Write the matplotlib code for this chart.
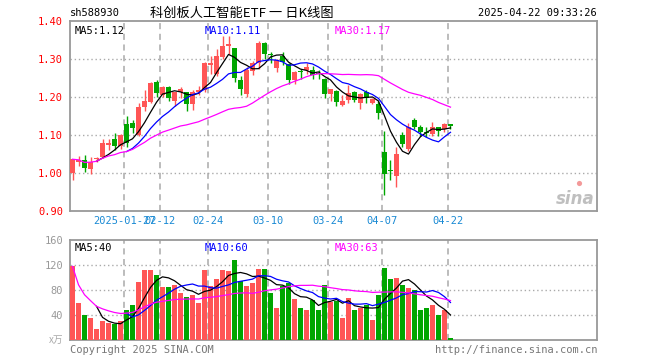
import numpy as np
import pandas as pd
import matplotlib
matplotlib.use("Agg")
import matplotlib.pyplot as plt

# daily K data for sh588930, 2025-01-14 .. 2025-04-22
opens = [1.000, 1.031, 1.035, 1.011, 1.037, 1.042, 1.074, 1.091, 1.071, 1.131,
         1.133, 1.102, 1.175, 1.188, 1.240, 1.206, 1.228, 1.189, 1.215, 1.215,
         1.182, 1.215, 1.219, 1.286, 1.262, 1.305, 1.336, 1.329, 1.246, 1.209,
         1.270, 1.289, 1.344, 1.314, 1.277, 1.309, 1.287, 1.246, 1.270, 1.272,
         1.272, 1.265, 1.249, 1.208, 1.217, 1.179, 1.192, 1.214, 1.184, 1.214,
         1.186, 1.182, 1.056, 1.008, 0.992, 1.101, 1.064, 1.141, 1.123, 1.110,
         1.104, 1.123, 1.117, 1.130]
highs = [1.038, 1.045, 1.048, 1.042, 1.043, 1.089, 1.090, 1.106, 1.103, 1.152,
         1.141, 1.186, 1.218, 1.239, 1.246, 1.230, 1.231, 1.215, 1.226, 1.215,
         1.218, 1.231, 1.292, 1.308, 1.326, 1.361, 1.361, 1.331, 1.257, 1.279,
         1.296, 1.347, 1.346, 1.318, 1.301, 1.320, 1.289, 1.268, 1.274, 1.290,
         1.283, 1.271, 1.251, 1.223, 1.219, 1.206, 1.232, 1.217, 1.211, 1.218,
         1.199, 1.191, 1.112, 1.035, 1.070, 1.108, 1.133, 1.145, 1.128, 1.123,
         1.136, 1.123, 1.132, 1.130]
lows = [0.983, 1.019, 1.004, 0.998, 1.030, 1.040, 1.061, 1.062, 1.064, 1.070,
        1.106, 1.098, 1.165, 1.184, 1.200, 1.200, 1.191, 1.178, 1.198, 1.163,
        1.167, 1.207, 1.215, 1.261, 1.257, 1.301, 1.314, 1.239, 1.207, 1.202,
        1.260, 1.275, 1.301, 1.289, 1.267, 1.284, 1.234, 1.234, 1.248, 1.261,
        1.248, 1.248, 1.197, 1.191, 1.176, 1.177, 1.186, 1.188, 1.170, 1.184,
        1.182, 1.144, 0.943, 0.983, 0.963, 1.070, 1.060, 1.117, 1.099, 1.095,
        1.099, 1.099, 1.110, 1.117]
closes = [1.037, 1.034, 1.015, 1.031, 1.041, 1.080, 1.081, 1.073, 1.100, 1.080,
          1.120, 1.175, 1.191, 1.237, 1.212, 1.227, 1.197, 1.213, 1.222, 1.182,
          1.215, 1.220, 1.289, 1.289, 1.310, 1.336, 1.340, 1.251, 1.222, 1.273,
          1.289, 1.342, 1.315, 1.311, 1.298, 1.293, 1.246, 1.267, 1.267, 1.281,
          1.258, 1.261, 1.208, 1.221, 1.188, 1.191, 1.211, 1.193, 1.208, 1.197,
          1.195, 1.158, 0.998, 1.006, 1.051, 1.077, 1.121, 1.123, 1.110, 1.107,
          1.123, 1.112, 1.130, 1.125]
volumes = [118, 59, 41, 35, 18, 30, 28, 26, 30, 48, 57, 93, 112, 112, 104, 85,
           85, 89, 76, 69, 73, 60, 112, 86, 97, 112, 110, 128, 94, 86, 91, 113,
           113, 75, 52, 87, 92, 66, 51, 48, 65, 48, 89, 61, 63, 35, 68, 49, 51,
           56, 33, 72, 116, 97, 99, 88, 84, 81, 49, 51, 57, 41, 49, 4]

holidays = ["2025-01-28", "2025-01-29", "2025-01-30", "2025-01-31",
            "2025-02-03", "2025-02-04", "2025-04-04"]
dates = pd.bdate_range("2025-01-14", "2025-04-22")
dates = dates[~dates.isin(pd.to_datetime(holidays))]

tick_dates = ["2025-01-27", "2025-02-12", "2025-02-24", "2025-03-10",
              "2025-03-24", "2025-04-07", "2025-04-22"]
tick_labels = ["2025-01-27", "02-12", "02-24", "03-10", "03-24", "04-07", "04-22"]

price_ticks = [0.90, 1.00, 1.10, 1.20, 1.30, 1.40]
vol_ticks = [40, 80, 120, 160]

RED = "#ff5555"
GREEN = "#00a600"
FRAME = "#999999"
GRID = "#aaaaaa"
MONO = "DejaVu Sans Mono"
CJK = ["Noto Sans CJK SC", "DejaVu Sans"]

o = np.array(opens)
h = np.array(highs)
l = np.array(lows)
c = np.array(closes)
v = np.array(volumes)
x = np.arange(len(c))
up = c >= o
colors = np.where(up, RED, GREEN)

close_s = pd.Series(c)
ma5 = close_s.rolling(5).mean()
ma10 = close_s.rolling(10).mean()
ma30 = close_s.rolling(30, min_periods=1).mean()
vol_s = pd.Series(v, dtype=float)
vma5 = vol_s.rolling(5).mean()
vma10 = vol_s.rolling(10).mean()
vma30 = vol_s.rolling(30, min_periods=1).mean()

tick_pos = [dates.get_loc(pd.Timestamp(d)) - 0.35 for d in tick_dates]

fig = plt.figure(figsize=(6.6, 3.6), dpi=100)
ax = fig.add_axes([70 / 660, 1 - 211.3 / 360, 527 / 660, 190 / 360])
axv = fig.add_axes([70 / 660, 1 - 340.3 / 360, 527 / 660, 100.3 / 360])

for a in (ax, axv):
    a.set_xlim(-0.42, 87.42)
    for s in a.spines.values():
        s.set_color(FRAME)
        s.set_linewidth(1.3)
    a.tick_params(length=0)
    for p in tick_pos:
        a.axvline(p, color=GRID, lw=1.1, ls=(0, (4, 3)), zorder=0)
    a.set_xticks([])

# price panel
ax.set_ylim(0.90, 1.40)
for y in price_ticks[1:-1]:
    ax.axhline(y, color=GRID, lw=1.0, ls=(0, (1, 2)), zorder=0)
ax.vlines(x, l, h, colors=colors, lw=1.0, zorder=2)
body = np.maximum(np.abs(c - o), 0.0025)
ax.bar(x, body, bottom=np.minimum(o, c), width=0.83, color=colors,
       linewidth=0, zorder=3)
ax.plot(x, ma5, color="black", lw=0.9, zorder=4)
ax.plot(x, ma10, color="#0000ff", lw=0.9, zorder=4)
ax.plot(x, ma30, color="#ff00ff", lw=0.9, zorder=4)
ax.set_yticks(price_ticks)
ax.set_yticklabels([f"{t:.2f}" for t in price_ticks], color="#ff0000",
                   family=MONO, fontsize=7.5)
ax.tick_params(axis="y", pad=5)

for t, p in zip(tick_labels, tick_pos):
    ax.text(p, -0.05, t, transform=ax.get_xaxis_transform(), ha="center",
            va="center", color="#1a8ad4", family=MONO, fontsize=7.5)

ax.text(5 / 527, 0.975, f"MA5:{ma5.iloc[-1]:.2f}", transform=ax.transAxes,
        family=MONO, fontsize=7.5, color="black", va="top")
ax.text(135 / 527, 0.975, f"MA10:{ma10.iloc[-1]:.2f}", transform=ax.transAxes,
        family=MONO, fontsize=7.5, color="#0000ff", va="top")
ax.text(265 / 527, 0.975, f"MA30:{ma30.iloc[-1]:.2f}", transform=ax.transAxes,
        family=MONO, fontsize=7.5, color="#ff00ff", va="top")

# sina watermark
ax.text(0.995, 0.02, "sina", transform=ax.transAxes, ha="right", va="bottom",
        fontsize=12, style="italic", weight="bold", color="#b0b0b0", alpha=0.8)
ax.scatter([0.966], [0.15], transform=ax.transAxes, s=14, color="#f08080",
           alpha=0.8, linewidths=0, zorder=5)

# volume panel
axv.set_ylim(0, 160)
for y in vol_ticks[:-1]:
    axv.axhline(y, color=GRID, lw=1.0, ls=(0, (1, 2)), zorder=0)
axv.bar(x, v, width=0.83, color=colors, linewidth=0, zorder=3)
axv.plot(x, vma5, color="black", lw=0.9, zorder=4)
axv.plot(x, vma10, color="#0000ff", lw=0.9, zorder=4)
axv.plot(x, vma30, color="#ff00ff", lw=0.9, zorder=4)
axv.set_yticks(vol_ticks)
axv.set_yticklabels([str(t) for t in vol_ticks], color="#999999",
                    family=MONO, fontsize=7.5)
axv.tick_params(axis="y", pad=5)

axv.text(5 / 527, 0.97, f"MA5:{vma5.iloc[-1]:.0f}", transform=axv.transAxes,
         family=MONO, fontsize=7.5, color="black", va="top")
axv.text(135 / 527, 0.97, f"MA10:{vma10.iloc[-1]:.0f}", transform=axv.transAxes,
         family=MONO, fontsize=7.5, color="#0000ff", va="top")
axv.text(265 / 527, 0.97, f"MA30:{vma30.iloc[-1]:.0f}", transform=axv.transAxes,
         family=MONO, fontsize=7.5, color="#ff00ff", va="top")

fig.text(63 / 660, 1 - 340 / 360, "x万", ha="right", va="center",
         family=CJK, fontsize=7, style="italic", color="#aaaaaa")
fig.text(70 / 660, 1 - 350 / 360, "Copyright 2025 SINA.COM", ha="left",
         va="center", family=MONO, fontsize=7.5, color="#777777")
fig.text(597 / 660, 1 - 350 / 360, "http://finance.sina.com.cn", ha="right",
         va="center", family=MONO, fontsize=7.5, color="#777777")

# header
fig.text(70 / 660, 1 - 13 / 360, "sh588930", ha="left", va="center",
         family=MONO, fontsize=7.5, color="black")
fig.text(150 / 660, 1 - 13 / 360, "科创板人工智能ETF 一 日K线图", ha="left",
         va="center", family=CJK, fontsize=9.5, color="black")
fig.text(597 / 660, 1 - 13 / 360, "2025-04-22 09:33:26", ha="right",
         va="center", family=MONO, fontsize=7.5, color="black")

fig.savefig("out.png", dpi=100, facecolor="white")
